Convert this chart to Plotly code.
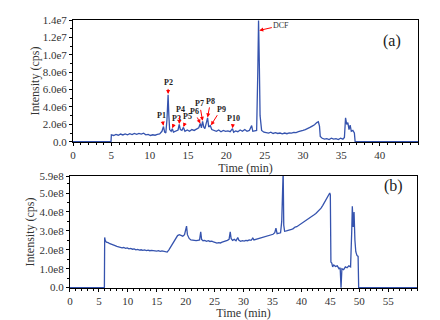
import plotly.graph_objects as go

# ---------------- data (a) ----------------
time_a = [0, 4.95, 5.0, 5.3, 5.6, 5.9, 6.2, 6.5, 6.8, 7.1, 7.4, 7.7, 8.0, 8.3, 8.6, 8.9, 9.2, 9.5, 9.8,
          10.1, 10.4, 10.7, 11.0, 11.3, 11.6, 11.8, 11.95, 12.1, 12.25, 12.4, 12.5, 12.6, 12.8, 12.95,
          13.1, 13.4, 13.7, 13.85, 14.0, 14.2, 14.4, 14.6, 14.9, 15.2, 15.5, 15.8, 16.1, 16.4, 16.6,
          16.75, 16.9, 17.05, 17.2, 17.4, 17.55, 17.7, 17.9, 18.1, 18.4, 18.7, 19.0, 19.3, 19.6, 19.9,
          20.2, 20.5, 20.8, 20.95, 21.2, 21.5, 21.8, 22.1, 22.4, 22.7, 23.0, 23.3, 23.45, 23.7, 23.95,
          24.1, 24.2, 24.3, 24.4, 24.6, 24.9, 25.2, 25.5, 25.8, 26.1, 26.4, 26.7, 27.0, 27.3, 27.6,
          27.9, 28.2, 28.5, 28.8, 29.1, 29.4, 29.7, 30.0, 30.3, 30.6, 30.9, 31.2, 31.5, 31.8, 32.0,
          32.15, 32.25, 32.5, 32.8, 33.1, 33.4, 33.7, 34.0, 34.3, 34.6, 34.9, 35.2, 35.4, 35.55, 35.7,
          35.85, 36.0, 36.15, 36.3, 36.5, 36.7, 36.8, 45.0]
intensity_a = [0.0, 0.0, 0.8, 0.72, 0.85, 0.75, 0.88, 0.78, 0.9, 0.8, 0.92, 0.82, 0.95, 0.85, 0.96, 0.88,
               0.98, 0.8, 0.85, 0.72, 0.8, 0.75, 0.85, 0.9, 1.2, 1.75, 1.1, 1.0, 2.5, 5.4, 3.0, 1.4, 1.2,
               1.5, 1.1, 1.25, 1.35, 2.0, 1.4, 1.3, 1.65, 1.2, 1.35, 1.2, 1.4, 1.3, 1.45, 1.6, 2.1, 1.6,
               2.35, 1.7, 1.5, 2.4, 2.75, 1.7, 1.85, 1.4, 1.3, 1.2, 1.35, 1.15, 1.3, 1.2, 1.25, 1.15, 1.5,
               1.1, 1.25, 1.15, 1.35, 1.2, 1.4, 1.2, 1.3, 1.85, 1.2, 1.25, 1.3, 8.0, 13.95, 9.0, 3.0, 1.3,
               1.1, 1.05, 1.0, 1.1, 0.95, 1.05, 0.95, 1.0, 0.9, 1.0, 0.92, 1.02, 1.0, 1.08, 1.05, 1.15, 1.2,
               1.3, 1.4, 1.5, 1.65, 1.8, 1.95, 2.2, 2.3, 1.8, 0.6, 0.4, 0.3, 0.35, 0.25, 0.4, 0.3, 0.35,
               0.25, 0.4, 0.3, 0.5, 2.75, 2.0, 2.2, 1.4, 1.9, 1.2, 1.3, 1.0, 0.0, 0.0]  # x1e6

peak_labels = ["P1", "P2", "P3", "P4", "P5", "P6", "P7", "P8", "P9", "P10"]
peak_time = [11.8, 12.4, 12.95, 13.85, 14.4, 16.6, 16.9, 17.55, 18.0, 20.8]
peak_int = [1.85, 5.5, 1.55, 2.05, 1.7, 2.1, 2.4, 2.8, 1.9, 1.55]  # x1e6
dcf_time, dcf_int = 24.3, 12.8  # x1e6

# ---------------- data (b) ----------------
time_b = [0, 5.95, 6.0, 6.1, 6.3, 6.6, 6.9, 7.2, 7.5, 7.8, 8.1, 8.4, 8.7, 9.0, 9.3, 9.6, 9.9, 10.2, 10.5,
          10.8, 11.1, 11.4, 11.7, 12.0, 12.3, 12.6, 12.9, 13.2, 13.5, 13.8, 14.1, 14.4, 14.7, 15.0, 15.3,
          15.6, 15.9, 16.2, 16.5, 16.8, 17.1, 17.4, 17.7, 18.0, 18.3, 18.6, 18.9, 19.2, 19.5, 19.8, 20.0,
          20.15, 20.3, 20.6, 20.9, 21.2, 21.5, 21.8, 22.1, 22.4, 22.6, 22.75, 23.0, 23.3, 23.6, 23.9,
          24.2, 24.5, 24.8, 25.1, 25.4, 25.7, 26.0, 26.3, 26.6, 26.9, 27.2, 27.5, 27.7, 27.85, 28.1,
          28.4, 28.7, 29.0, 29.2, 29.5, 29.8, 30.1, 30.4, 30.7, 31.0, 31.3, 31.6, 31.8, 32.1, 32.4,
          32.7, 33.0, 33.3, 33.6, 33.9, 34.2, 34.5, 34.8, 35.1, 35.4, 35.6, 35.8, 36.1, 36.4, 36.6,
          36.7, 36.85, 36.95, 37.1, 37.4, 37.7, 38.0, 38.3, 38.6, 38.9, 39.2, 39.5, 39.8, 40.1, 40.4,
          40.7, 41.0, 41.3, 41.6, 41.9, 42.2, 42.5, 42.8, 43.1, 43.4, 43.7, 44.0, 44.3, 44.6, 44.9,
          45.0, 45.1, 45.25, 45.4, 45.6, 45.9, 46.2, 46.5, 46.7, 46.85, 47.0, 47.3, 47.6, 47.9, 48.2,
          48.5, 48.7, 48.8, 48.95, 49.1, 49.25, 49.4, 49.6, 49.8, 49.9, 60.0]
intensity_b = [0.0, 0.0, 2.65, 2.5, 2.4, 2.38, 2.32, 2.3, 2.25, 2.22, 2.18, 2.15, 2.12, 2.1, 2.12, 2.08,
               2.1, 2.05, 2.07, 2.03, 2.05, 2.0, 2.02, 1.98, 2.0, 1.97, 1.99, 1.96, 1.98, 1.95, 1.97, 1.95,
               1.96, 1.93, 1.95, 1.92, 1.94, 1.91, 1.9, 1.88, 2.0, 2.15, 2.35, 2.5, 2.65, 2.75, 2.8, 2.78,
               2.72, 2.8, 3.05, 3.25, 2.8, 2.6, 2.52, 2.5, 2.52, 2.48, 2.5, 2.52, 2.95, 2.55, 2.48, 2.5,
               2.45, 2.48, 2.44, 2.46, 2.42, 2.38, 2.35, 2.38, 2.36, 2.4, 2.42, 2.45, 2.5, 2.55, 2.95, 2.6,
               2.5, 2.55, 2.48, 2.65, 2.5, 2.45, 2.48, 2.46, 2.5, 2.48, 2.52, 2.5, 2.62, 2.52, 2.55, 2.58,
               2.6, 2.62, 2.65, 2.68, 2.7, 2.72, 2.75, 2.78, 2.82, 2.9, 3.15, 2.85, 2.88, 2.9, 3.5, 6.2,
               6.2, 3.3, 2.98, 3.0, 3.02, 3.05, 3.08, 3.12, 3.2, 3.22, 3.28, 3.35, 3.4, 3.45, 3.55, 3.6,
               3.65, 3.7, 3.78, 3.85, 3.92, 4.0, 4.1, 4.2, 4.35, 4.5, 4.7, 4.85, 5.0, 4.9, 1.35, 1.3, 1.1,
               1.2, 1.12, 1.15, 1.0, 1.05, 0.0, 1.0, 0.95, 1.1, 1.05, 1.15, 1.1, 3.0, 4.3, 3.2, 4.0, 2.5,
               1.9, 1.7, 1.65, 0.0, 0.0]  # x1e8

ticks_a = [0, 2e6, 4e6, 6e6, 8e6, 1e7, 1.2e7, 1.4e7]
ticktext_a = ["0.0", "2.0e6", "4.0e6", "6.0e6", "8.0e6", "1.0e7", "1.2e7", "1.4e7"]
ticks_b = [0, 1e8, 2e8, 3e8, 4e8, 5e8, 5.9e8]
ticktext_b = ["0.0", "1.0e8", "2.0e8", "3.0e8", "4.0e8", "5.0e8", "5.9e8"]

LINE = "#3553AE"
FONT = "Liberation Serif"

fig = go.Figure()
fig.add_trace(go.Scatter(x=time_a, y=[v * 1e6 for v in intensity_a], mode="lines",
                         line=dict(color=LINE, width=1.3), xaxis="x", yaxis="y", showlegend=False))
fig.add_trace(go.Scatter(x=time_b, y=[v * 1e8 for v in intensity_b], mode="lines",
                         line=dict(color=LINE, width=1.3), xaxis="x2", yaxis="y2", showlegend=False))

axis_common = dict(showline=True, linecolor="black", linewidth=1, mirror=True, ticks="outside",
                   ticklen=3, tickcolor="black", showgrid=False, zeroline=False, automargin=False,
                   tickfont=dict(family=FONT, size=11, color="#333"))
title_font = dict(family=FONT, size=12, color="#333")

fig.update_layout(
    width=440, height=320, margin=dict(l=0, r=0, t=0, b=0, autoexpand=False),
    paper_bgcolor="white", plot_bgcolor="white",
    font=dict(family=FONT, color="#333"),
    xaxis=dict(domain=[0.166, 0.95], anchor="y", range=[0, 45], tickvals=list(range(0, 45, 5)),
               minor=dict(dtick=1, ticks="outside", ticklen=2, tickcolor="black"),
               title=dict(text="Time (min)", font=title_font, standoff=1),
               **axis_common),
    yaxis=dict(domain=[0.556, 0.9375], anchor="x", range=[-0.04e6, 1.4e7], tickvals=ticks_a,
               ticktext=ticktext_a,
               minor=dict(dtick=1e6, ticks="outside", ticklen=2, tickcolor="black"),
               title=dict(text="Intensity (cps)", font=title_font, standoff=0),
               **axis_common),
    xaxis2=dict(domain=[0.159, 0.948], anchor="y2", range=[0, 60], tickvals=list(range(0, 60, 5)),
                minor=dict(dtick=1, ticks="outside", ticklen=2, tickcolor="black"),
                title=dict(text="Time (min)", font=title_font, standoff=1),
                **axis_common),
    yaxis2=dict(domain=[0.1, 0.45], anchor="x2", range=[-0.02e8, 5.9e8], tickvals=ticks_b,
                ticktext=ticktext_b,
                minor=dict(dtick=0.5e8, ticks="outside", ticklen=2, tickcolor="black"),
                title=dict(text="Intensity (cps)", font=title_font, standoff=2),
                **axis_common),
)

offsets = [(-2, -10), (0, -11), (4, -10), (1, -14), (4, -10), (-6, -12), (-3, -17), (3, -16), (10, -16), (1, -10)]
for lab, t, v, (ax, ay) in zip(peak_labels, peak_time, peak_int, offsets):
    fig.add_annotation(x=t, y=v * 1e6, xref="x", yref="y", text="<b>" + lab + "</b>", showarrow=True,
                       ax=ax, ay=ay, arrowcolor="red", arrowhead=2, arrowsize=0.8, arrowwidth=1,
                       font=dict(family=FONT, size=8, color="#222"), standoff=0)

fig.add_annotation(x=dcf_time, y=dcf_int * 1e6, xref="x", yref="y", text="DCF", showarrow=True,
                   ax=22, ay=-5, arrowcolor="red", arrowhead=2, arrowsize=0.8, arrowwidth=1,
                   font=dict(family=FONT, size=8, color="#333"))

fig.add_annotation(x=0.915, y=0.905, xref="paper", yref="paper", text="(a)", showarrow=False,
                   font=dict(family=FONT, size=16, color="#222"))
fig.add_annotation(x=0.92, y=0.42, xref="paper", yref="paper", text="(b)", showarrow=False,
                   font=dict(family=FONT, size=16, color="#222"))

fig.write_html("out.html", config={"displayModeBar": False},
               post_script="document.body.style.margin='0';")
